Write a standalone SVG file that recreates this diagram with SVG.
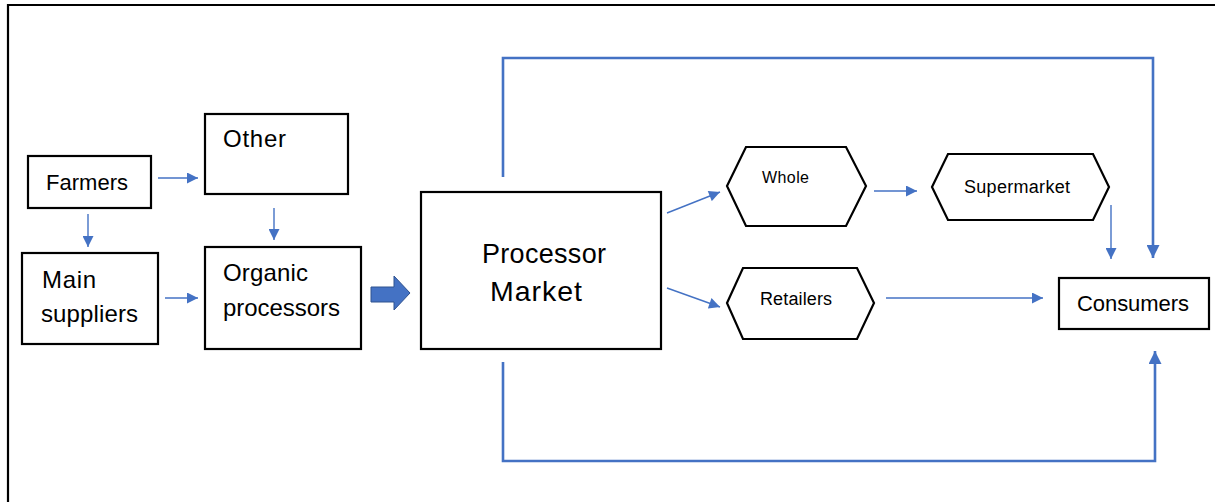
<svg xmlns="http://www.w3.org/2000/svg" width="1215" height="502" viewBox="0 0 1215 502">
<style>
.box{fill:#fff;stroke:#000;stroke-width:2.2}
.t{font-family:"Liberation Sans",Arial,sans-serif;fill:#000}
.thin{stroke:#4472C4;stroke-width:1.4;fill:none}
.thick{stroke:#4472C4;stroke-width:2.6;fill:none}
</style>
<defs>
<marker id="ah" viewBox="0 0 10 10" refX="10" refY="5" markerWidth="12" markerHeight="11" markerUnits="userSpaceOnUse" orient="auto"><path d="M0,0 L10,5 L0,10 z" fill="#4472C4"/></marker>
<marker id="ahb" viewBox="0 0 10 10" refX="10" refY="5" markerWidth="13" markerHeight="13" markerUnits="userSpaceOnUse" orient="auto"><path d="M0,0 L10,5 L0,10 z" fill="#4472C4"/></marker>
</defs>
<rect width="1215" height="502" fill="#fff"/>
<path d="M8,502 V5 H1215" fill="none" stroke="#000" stroke-width="2.2"/>
<g id="farmers"><rect class="box" x="28" y="156" width="123" height="52"/><text class="t" x="46" y="190" font-size="22" textLength="82">Farmers</text></g>
<g id="other"><rect class="box" x="205" y="114" width="143" height="80"/><text class="t" x="223" y="147" font-size="24" textLength="63">Other</text></g>
<g id="main-suppliers"><rect class="box" x="22" y="253" width="136" height="91"/><text class="t" x="42" y="288" font-size="24" textLength="54">Main</text><text class="t" x="41" y="322" font-size="24" textLength="97">suppliers</text></g>
<g id="organic-processors"><rect class="box" x="205" y="247" width="156" height="102"/><text class="t" x="223" y="281" font-size="24" textLength="85">Organic</text><text class="t" x="223" y="316" font-size="24" textLength="117">processors</text></g>
<g id="processor-market"><rect class="box" x="421" y="192" width="240" height="157"/><text class="t" x="482" y="263" font-size="27" textLength="124">Processor</text><text class="t" x="490" y="301" font-size="28.5" textLength="92">Market</text></g>
<g id="whole"><polygon class="box" points="727,186 746,147 846,147 866,186 846,226 746,226"/><text class="t" x="762" y="183" font-size="16" textLength="47">Whole</text></g>
<g id="supermarket"><polygon class="box" points="932,187 948,154 1093,154 1109,187 1093,220 948,220"/><text class="t" x="964" y="193" font-size="18" textLength="106">Supermarket</text></g>
<g id="retailers"><polygon class="box" points="727,303 743,268 857,268 874,303 857,339 743,339"/><text class="t" x="760" y="305" font-size="18" textLength="72">Retailers</text></g>
<g id="consumers"><rect class="box" x="1059" y="278" width="150" height="51"/><text class="t" x="1077" y="311" font-size="22" textLength="112">Consumers</text></g>
<g id="connectors">
<line class="thin" x1="158" y1="178" x2="198" y2="178" marker-end="url(#ah)"/>
<line class="thin" x1="88" y1="214" x2="88" y2="247" marker-end="url(#ah)"/>
<line class="thin" x1="274" y1="208" x2="274" y2="240" marker-end="url(#ah)"/>
<line class="thin" x1="165" y1="298" x2="198" y2="298" marker-end="url(#ah)"/>
<path d="M371,287 H394 V276 L410,293 L394,310 V302 H371 z" fill="#4472C4" stroke="#2F528F" stroke-width="1"/>
<line class="thin" x1="667" y1="213" x2="720" y2="192" marker-end="url(#ah)"/>
<line class="thin" x1="667" y1="288" x2="720" y2="307" marker-end="url(#ah)"/>
<line class="thin" x1="874" y1="191" x2="917" y2="191" marker-end="url(#ah)"/>
<line class="thin" x1="1111" y1="205" x2="1111" y2="259" marker-end="url(#ah)"/>
<line class="thin" x1="886" y1="298" x2="1043" y2="298" marker-end="url(#ah)"/>
<path class="thick" d="M503,177 V58 H1153 V258" marker-end="url(#ahb)"/>
<path class="thick" d="M503,362 V461 H1155 V351" marker-end="url(#ahb)"/>
</g>
</svg>
